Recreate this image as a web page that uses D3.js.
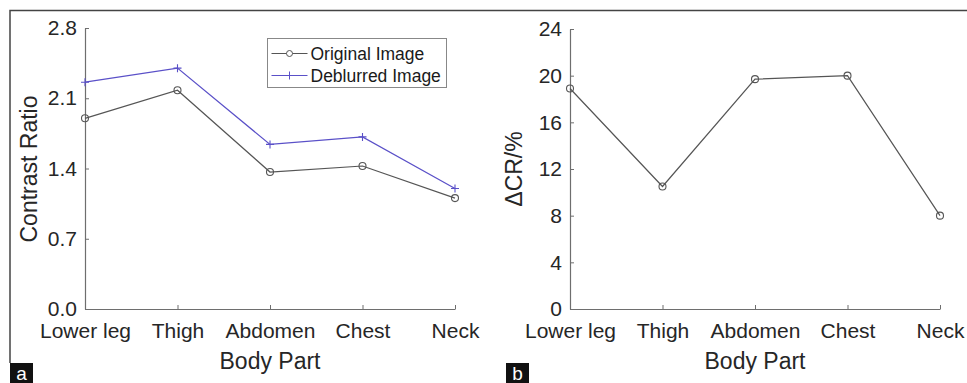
<!DOCTYPE html>
<html>
<head>
<meta charset="utf-8">
<script src="https://cdn.jsdelivr.net/npm/d3@7"></script>
<style>
  body { margin: 0; background: #fff; }
  svg { display: block; font-family: "Liberation Sans", Arial, sans-serif; }
  .axis path, .axis line { stroke: #6e6e6e; }
  .axis text { fill: #262626; font-size: 21px; }
</style>
</head>
<body>
<div id="chart"></div>
<script>
/**
 * DATA
 * */
const bodyParts = ["Lower leg", "Thigh", "Abdomen", "Chest", "Neck"];
const originalCR = [1.90, 2.18, 1.365, 1.425, 1.105];
const deblurredCR = [2.26, 2.40, 1.64, 1.715, 1.20];
const deltaCR = [18.9, 10.5, 19.7, 20.0, 8.0];
const crTicks = [0, 0.7, 1.4, 2.1, 2.8];
const deltaTicks = [0, 4, 8, 12, 16, 20, 24];
const legendLabels = ["Original Image", "Deblurred Image"];

/**
 * CONSTANTS
 * */
const width = 967,
  height = 383;
const grey = "#555",
  blue = "#5a50c8";

const svg = d3.select("#chart")
  .append("svg")
  .attr("width", width)
  .attr("height", height);

// outer frame (top + left only)
svg.append("path")
  .attr("d", "M10,363 V10.5 H967")
  .attr("fill", "none")
  .attr("stroke", "#444")
  .attr("stroke-width", 1.5);

// draws one panel, returns scales
function panel(x0, x1, yTop, yMax, ticks, fmt, yLabel) {
  const x = d3.scalePoint().domain(bodyParts).range([x0, x1]);
  const y = d3.scaleLinear().domain([0, yMax]).range([309, yTop]);

  svg.append("g")
    .attr("class", "axis")
    .attr("transform", "translate(0,309)")
    .call(d3.axisBottom(x).tickSizeInner(-4).tickSizeOuter(0).tickPadding(14));

  svg.append("g")
    .attr("class", "axis")
    .attr("transform", `translate(${x0},0)`)
    .call(d3.axisLeft(y).tickValues(ticks).tickFormat(fmt).tickSizeInner(-4).tickSizeOuter(0).tickPadding(8));

  svg.selectAll(".axis path.domain").attr("stroke-width", 1.2);

  svg.append("text")
    .attr("x", (x0 + x1) / 2)
    .attr("y", 369)
    .attr("text-anchor", "middle")
    .attr("font-size", 23)
    .attr("fill", "#262626")
    .text("Body Part");

  svg.append("text")
    .attr("transform", `translate(${x0 - 48},169) rotate(-90)`)
    .attr("text-anchor", "middle")
    .attr("font-size", 23)
    .attr("fill", "#262626")
    .text(yLabel);

  return { x, y };
}

function drawLine(s, values, color) {
  const line = d3.line().x((d, i) => s.x(bodyParts[i])).y(d => s.y(d));
  svg.append("path")
    .datum(values)
    .attr("d", line)
    .attr("fill", "none")
    .attr("stroke", color)
    .attr("stroke-width", 1.2);
}

function circles(s, values) {
  svg.append("g")
    .selectAll("circle")
    .data(values)
    .join("circle")
    .attr("cx", (d, i) => s.x(bodyParts[i]))
    .attr("cy", d => s.y(d))
    .attr("r", 3.5)
    .attr("fill", "none")
    .attr("stroke", grey)
    .attr("stroke-width", 1.1);
}

function pluses(s, values) {
  svg.append("g")
    .selectAll("path")
    .data(values)
    .join("path")
    .attr("d", (d, i) => {
      const cx = s.x(bodyParts[i]), cy = s.y(d);
      return `M${cx - 4},${cy} H${cx + 4} M${cx},${cy - 4} V${cy + 4}`;
    })
    .attr("stroke", blue)
    .attr("stroke-width", 1.1);
}

// panel a
const a = panel(85, 455, 28, 2.8, crTicks, d3.format(".1f"), "Contrast Ratio");
drawLine(a, originalCR, grey);
drawLine(a, deblurredCR, blue);
circles(a, originalCR);
pluses(a, deblurredCR);

// legend
const lg = svg.append("g").attr("transform", "translate(267.5,38.5)");
lg.append("rect")
  .attr("width", 179)
  .attr("height", 49)
  .attr("fill", "#fff")
  .attr("stroke", "#888")
  .attr("stroke-width", 1);
legendLabels.forEach((lab, i) => {
  const ly = 15 + i * 22;
  lg.append("line")
    .attr("x1", 4).attr("x2", 40).attr("y1", ly).attr("y2", ly)
    .attr("stroke", i === 0 ? grey : blue).attr("stroke-width", 1.2);
  if (i === 0) {
    lg.append("circle").attr("cx", 22).attr("cy", ly).attr("r", 3)
      .attr("fill", "#fff").attr("stroke", grey);
  } else {
    lg.append("path").attr("d", `M18,${ly} H26 M22,${ly - 4} V${ly + 4}`)
      .attr("stroke", blue);
  }
  lg.append("text")
    .attr("x", 43)
    .attr("y", ly + 6)
    .attr("font-size", 17.5)
    .attr("fill", "#1a1a1a")
    .text(lab);
});

// panel b
const b = panel(570, 940, 29, 24, deltaTicks, d3.format("d"), "\u0394CR/%");
drawLine(b, deltaCR, grey);
circles(b, deltaCR);

// panel tags
[["a", 10], ["b", 506]].forEach(([t, x]) => {
  svg.append("rect").attr("x", x).attr("y", 363).attr("width", 23).attr("height", 20).attr("fill", "#111");
  svg.append("text").attr("x", x + 11.5).attr("y", 380).attr("text-anchor", "middle")
    .attr("font-size", 19).attr("fill", "#fff").text(t);
});
</script>
</body>
</html>
